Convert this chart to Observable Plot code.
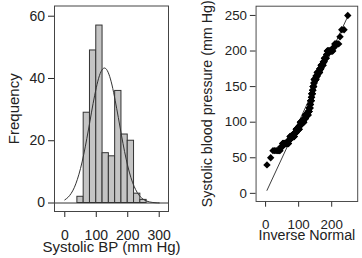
<!DOCTYPE html>
<html>
<head>
<meta charset="utf-8">
<script src="https://cdn.jsdelivr.net/npm/d3@7"></script>
<script src="https://cdn.jsdelivr.net/npm/@observablehq/plot@0.6"></script>
<style>
  html, body { margin: 0; padding: 0; background: #fff; }
  #wrap { position: relative; width: 362px; height: 258px; overflow: hidden; background: #fff; }
  #left { position: absolute; left: 0; top: 0; }
  #right { position: absolute; left: 181px; top: 0; }
</style>
</head>
<body>
<div id="wrap"><div id="left"></div><div id="right"></div></div>
<script>
// ---- Histogram data (Systolic BP, bin width 20) ----
const binLo = [40, 60, 80, 100, 120, 140, 160, 180, 200, 220, 240];
const binHi = [60, 80, 100, 120, 140, 160, 180, 200, 220, 240, 260];
const binCount = [2, 29, 49, 57, 16, 15, 36, 22, 20, 3, 1];

// fitted normal curve
const curveX = [0,10,20,30,40,50,60,70,80,90,100,110,120,130,140,150,160,170,180,190,200,210,220,230,240,250,260,270,280,290,300];
const curveY = [1.0,1.8,3.05,4.9,7.6,11.1,15.5,20.7,26.3,32.0,37.0,40.9,43.0,43.2,41.4,37.9,33.0,27.5,21.8,16.5,11.9,8.2,5.4,3.4,2.0,1.15,0.62,0.32,0.16,0.08,0.03];

// ---- Sorted BP observations (value, count) for the normal quantile plot ----
const bpValue = [40, 50, 60, 65, 70, 75, 80, 85, 90, 95, 100, 105, 110, 115, 120, 125, 130, 135, 140, 145, 150, 155, 160, 165, 170, 175, 180, 185, 190, 195, 200, 205, 210, 220, 230, 250];
const bpCount = [1, 1, 7, 3, 15, 4, 18, 8, 17, 6, 22, 10, 18, 7, 6, 3, 5, 2, 5, 3, 5, 2, 11, 6, 13, 6, 9, 4, 7, 2, 13, 2, 5, 1, 2, 1];

// tick labels
const histXTicks = [0, 100, 200, 300];
const histYTicks = [0, 20, 40, 60];
const qqXTicks = [0, 100, 200];
const qqYTicks = [0, 50, 100, 150, 200, 250];

const FONT = "'Liberation Sans', Arial, Helvetica, sans-serif";

// inverse standard normal CDF (Acklam)
function qnorm(p) {
  const a=[-3.969683028665376e+01,2.209460984245205e+02,-2.759285104469687e+02,1.383577518672690e+02,-3.066479806614716e+01,2.506628277459239e+00];
  const b=[-5.447609879822406e+01,1.615858368580409e+02,-1.556989798598866e+02,6.680131188771972e+01,-1.328068155288572e+01];
  const c=[-7.784894002430293e-03,-3.223964580411365e-01,-2.400758277161838e+00,-2.549732539343734e+00,4.374664141464968e+00,2.938163982698783e+00];
  const d=[7.784695709041462e-03,3.224671290700398e-01,2.445134137142996e+00,3.754408661907416e+00];
  const pl = 0.02425, ph = 1 - pl;
  if (p < pl) { const q = Math.sqrt(-2*Math.log(p)); return (((((c[0]*q+c[1])*q+c[2])*q+c[3])*q+c[4])*q+c[5])/((((d[0]*q+d[1])*q+d[2])*q+d[3])*q+1); }
  if (p <= ph) { const q = p - 0.5, r = q*q; return (((((a[0]*r+a[1])*r+a[2])*r+a[3])*r+a[4])*r+a[5])*q/(((((b[0]*r+b[1])*r+b[2])*r+b[3])*r+b[4])*r+1); }
  const q = Math.sqrt(-2*Math.log(1-p)); return -(((((c[0]*q+c[1])*q+c[2])*q+c[3])*q+c[4])*q+c[5])/((((d[0]*q+d[1])*q+d[2])*q+d[3])*q+1);
}

// ---- Left: histogram ----
const bins = binLo.map((lo, i) => ({lo, hi: binHi[i], n: binCount[i]}));
const curve = curveX.map((x, i) => ({x, y: curveY[i]}));

const leftChart = Plot.plot({
  width: 181, height: 258,
  marginLeft: 54, marginRight: 13, marginTop: 5.5, marginBottom: 47,
  style: {fontFamily: FONT, fontSize: "14px", color: "#222", background: "#fff"},
  x: {domain: [-32.7, 329.5], ticks: histXTicks, tickSize: 6, tickPadding: 13, label: null},
  y: {domain: [-2.73, 63.28], ticks: histYTicks, tickSize: 6, tickPadding: 3.5, label: null},
  marks: [
    Plot.rectY(bins, {x1: "lo", x2: "hi", y1: 0, y2: "n", fill: "#c4c4c4", stroke: "#333", strokeWidth: 1}),
    Plot.ruleY([0], {stroke: "#333", strokeWidth: 1}),
    Plot.line(curve, {x: "x", y: "y", curve: "natural", stroke: "#333", strokeWidth: 1}),
    Plot.frame({stroke: "#444", strokeWidth: 1}),
    Plot.text(["Systolic BP (mm Hg)"], {frameAnchor: "bottom", dy: 40.5, textAnchor: "middle", lineAnchor: "bottom", fontSize: 15, fill: "#222"}),
    Plot.text(["Frequency"], {frameAnchor: "left", dx: -36, rotate: -90, textAnchor: "middle", lineAnchor: "bottom", fontSize: 15, fill: "#222"})
  ]
});
document.getElementById("left").appendChild(leftChart);

// ---- Right: normal quantile plot ----
const sorted = [];
bpValue.forEach((v, i) => { for (let k = 0; k < bpCount[i]; k++) sorted.push(v); });
const N = sorted.length;
const mu = d3.mean(sorted), sd = d3.deviation(sorted);
const qq = sorted.map((v, i) => ({q: mu + sd * qnorm((i + 1) / (N + 1)), v}));
const qMin = d3.min(qq, d => d.q), qMax = d3.max(qq, d => d.q);
const lineEnd = Math.max(qMax, d3.max(sorted));
const refLine = [{x: qMin, y: qMin}, {x: lineEnd, y: lineEnd}];

const rightChart = Plot.plot({
  width: 190, height: 258,
  marginLeft: 78.3, marginRight: 5, marginTop: 6, marginBottom: 47,
  style: {fontFamily: FONT, fontSize: "14px", color: "#222", background: "#fff"},
  x: {domain: [-28.8, 278.7], ticks: qqXTicks, tickSize: 6, tickPadding: 13, label: null},
  y: {domain: [-11.4, 263], ticks: qqYTicks, tickSize: 6, tickPadding: 3.5, label: null},
  marks: [
    Plot.line(refLine, {x: "x", y: "y", stroke: "#333", strokeWidth: 1}),
    Plot.dot(qq, {x: "q", y: "v", symbol: "diamond2", r: 3.5, fill: "#000", stroke: "none"}),
    Plot.frame({stroke: "#444", strokeWidth: 1}),
    Plot.text(["Inverse Normal"], {frameAnchor: "bottom", dy: 40.5, textAnchor: "middle", lineAnchor: "bottom", fontSize: 15, fill: "#222"}),
    Plot.text(["Systolic blood pressure (mm Hg)"], {frameAnchor: "left", dx: -45.9, rotate: -90, textAnchor: "middle", lineAnchor: "bottom", fontSize: 15, fill: "#222"})
  ]
});
document.getElementById("right").appendChild(rightChart);
</script>
</body>
</html>
